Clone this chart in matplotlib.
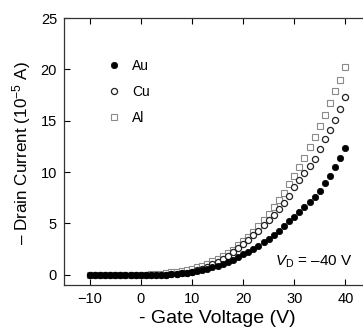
import numpy as np
import matplotlib
matplotlib.use("Agg")
import matplotlib.pyplot as plt

plt.rcParams['font.family'] = ['Liberation Sans', 'DejaVu Sans']
plt.rcParams['mathtext.fontset'] = 'custom'
plt.rcParams['mathtext.rm'] = 'Liberation Sans'
plt.rcParams['mathtext.it'] = 'Liberation Sans:italic'

# gate voltage (V), -10 ... 40 in 1 V steps
gate_v = list(range(-10, 41))

# drain current (10^-5 A)
au = [0]*15 + [0.02, 0.04, 0.07, 0.12, 0.18, 0.25, 0.33, 0.45, 0.58, 0.72,
               0.88, 1.05, 1.25, 1.48, 1.72, 1.98, 2.25, 2.5, 2.8, 3.15,
               3.5, 3.9, 4.3, 4.75, 5.2, 5.65, 6.1, 6.6, 7.1, 7.6,
               8.2, 8.9, 9.6, 10.5, 11.4, 12.3]
cu = [0]*15 + [0.02, 0.04, 0.08, 0.13, 0.2, 0.3, 0.42, 0.58, 0.78, 1.0,
               1.25, 1.5, 1.85, 2.2, 2.6, 3.0, 3.4, 3.9, 4.3, 4.8,
               5.3, 5.8, 6.4, 7.0, 7.7, 8.5, 9.2, 9.9, 10.6, 11.3,
               12.2, 13.2, 14.1, 15.1, 16.1, 17.3]
al = [0]*11 + [0.02, 0.04, 0.07, 0.11, 0.16, 0.22, 0.3, 0.38, 0.48, 0.6,
               0.72, 0.88, 1.07, 1.3, 1.55, 1.8, 2.1, 2.45, 2.85, 3.25,
               3.7, 4.15, 4.7, 5.3, 5.9, 6.6, 7.3, 8.0, 8.8, 9.6,
               10.5, 11.4, 12.4, 13.4, 14.5, 15.6, 16.7, 17.9, 19.0, 20.2]

fig = plt.figure(figsize=(3.63, 3.27), dpi=100)
ax = fig.add_axes([64/363, 1 - 285/327, 307/363, 267/327])

ax.plot(gate_v, al, 's', ms=4.2, mfc='white', mec='#8a8a8a', mew=0.8, label='Al', zorder=2)
ax.plot(gate_v, cu, 'o', ms=4.4, mfc='white', mec='#222222', mew=0.9, label='Cu', zorder=3)
ax.plot(gate_v, au, 'o', ms=4.6, mfc='black', mec='black', mew=0.5, label='Au', zorder=4)

ax.set_xlim(-15, 45)
ax.set_ylim(-1, 25)
ax.set_xticks([-10, 0, 10, 20, 30, 40])
ax.set_yticks([0, 5, 10, 15, 20, 25])
ax.tick_params(direction='in', top=True, right=True, length=4, width=0.8,
               labelsize=10.5, colors='black', pad=5)
for s in ax.spines.values():
    s.set_linewidth(0.9)
    s.set_color('#333333')

ax.set_xlabel('- Gate Voltage (V)', fontsize=14, va='top')
ax.xaxis.set_label_coords(0.5, -0.095)
ax.set_ylabel('– Drain Current (10$^{-5}$ A)', fontsize=12.3, va='bottom')
ax.yaxis.set_label_coords(-0.1, 0.495)

# legend, order Au, Cu, Al
h, l = ax.get_legend_handles_labels()
ax.legend([h[2], h[1], h[0]], [l[2], l[1], l[0]], loc='upper left',
          bbox_to_anchor=(0.095, 0.892), frameon=False, fontsize=10,
          handletextpad=0.7, labelspacing=0.85, handlelength=1.2)

ax.text(41.4, 0.9, '$V_{\\mathrm{D}}$ = –40 V', fontsize=11, ha='right', va='baseline')

fig.savefig('out.png', dpi=100)
